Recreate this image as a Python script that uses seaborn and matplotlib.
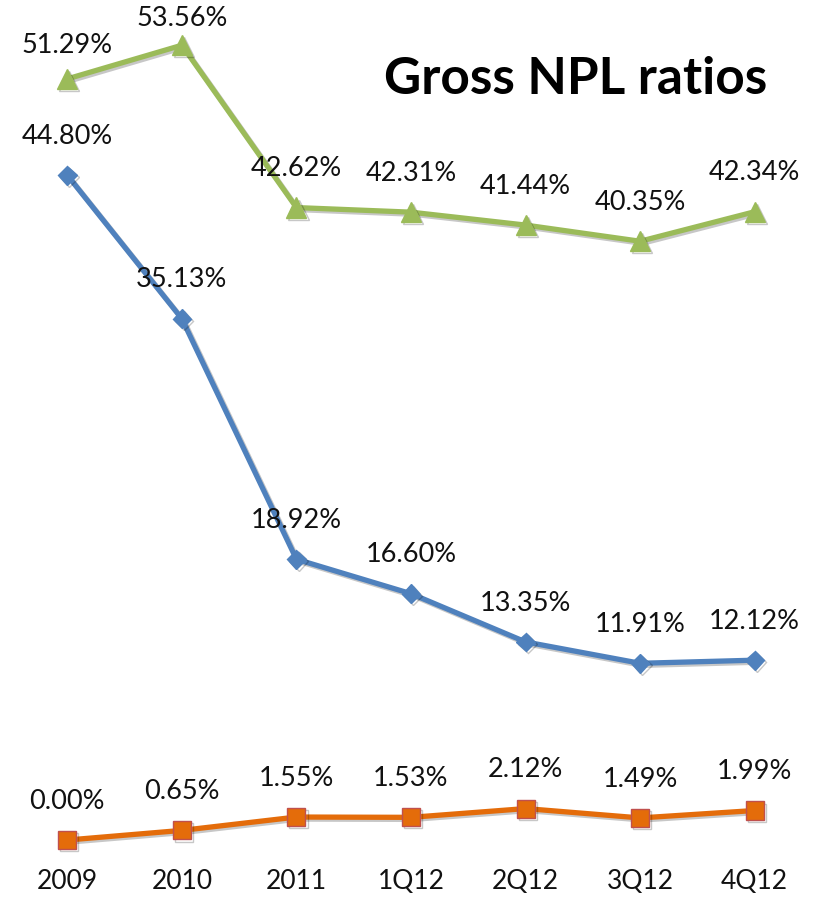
import pandas as pd
import seaborn as sns
import matplotlib.pyplot as plt
import matplotlib.patheffects as pe

# chart data
periods = ["2009", "2010", "2011", "1Q12", "2Q12", "3Q12", "4Q12"]
green_ratio = [51.29, 53.56, 42.62, 42.31, 41.44, 40.35, 42.34]
blue_ratio = [44.80, 35.13, 18.92, 16.60, 13.35, 11.91, 12.12]
orange_ratio = [0.00, 0.65, 1.55, 1.53, 2.12, 1.49, 1.99]

sns.set_theme(style="white")
plt.rcParams['font.family'] = ['Lato', 'DejaVu Sans']

fig = plt.figure(figsize=(8.19, 8.97), dpi=100)
ax = fig.add_axes([10 / 819, 35 / 897, 802 / 819, 857 / 897])

series = [
    (green_ratio, "#9BBB59", "#9BBB59", "^", 14.5),
    (blue_ratio, "#4F81BD", "#4F81BD", "D", 9.5),
    (orange_ratio, "#E46C0A", "#C0504D", "s", 13),
]

shadow = [pe.SimpleLineShadow(offset=(1.5, -1.5), alpha=0.22, shadow_color="black"),
          pe.Normal()]

for vals, col, edge, mk, ms in series:
    df = pd.DataFrame({"period": periods, "ratio": vals})
    sns.lineplot(data=df, x="period", y="ratio", sort=False, ax=ax,
                 color=col, lw=3.8, marker=mk, markersize=ms,
                 markerfacecolor=col, markeredgecolor=edge, markeredgewidth=1)
    ax.lines[-1].set_path_effects(shadow)
    for i, v in enumerate(vals):
        dy = 28
        # the two top labels sit a bit lower in the original
        if vals is green_ratio and i == 0:
            dy = 24
        if vals is green_ratio and i == 1:
            dy = 19
        ax.annotate(f"{v:.2f}%", (i, v), xytext=(0, dy),
                    textcoords="offset points", ha="center", va="center",
                    fontsize=19.5, color="#111111")

ax.set_xlim(-0.5, 6.5)
ax.set_ylim(-1.48, 56.27)
ax.set_xlabel("")
ax.set_ylabel("")
ax.set_yticks([])
ax.tick_params(axis="x", length=0, pad=5, labelsize=19, labelcolor="#111111")
for s in ax.spines.values():
    s.set_visible(False)

fig.text(576 / 819, 1 - 80 / 897, "Gross NPL ratios", ha="center", va="center",
         fontsize=37, fontweight="bold", color="black")

fig.savefig("out.png", dpi=100)
